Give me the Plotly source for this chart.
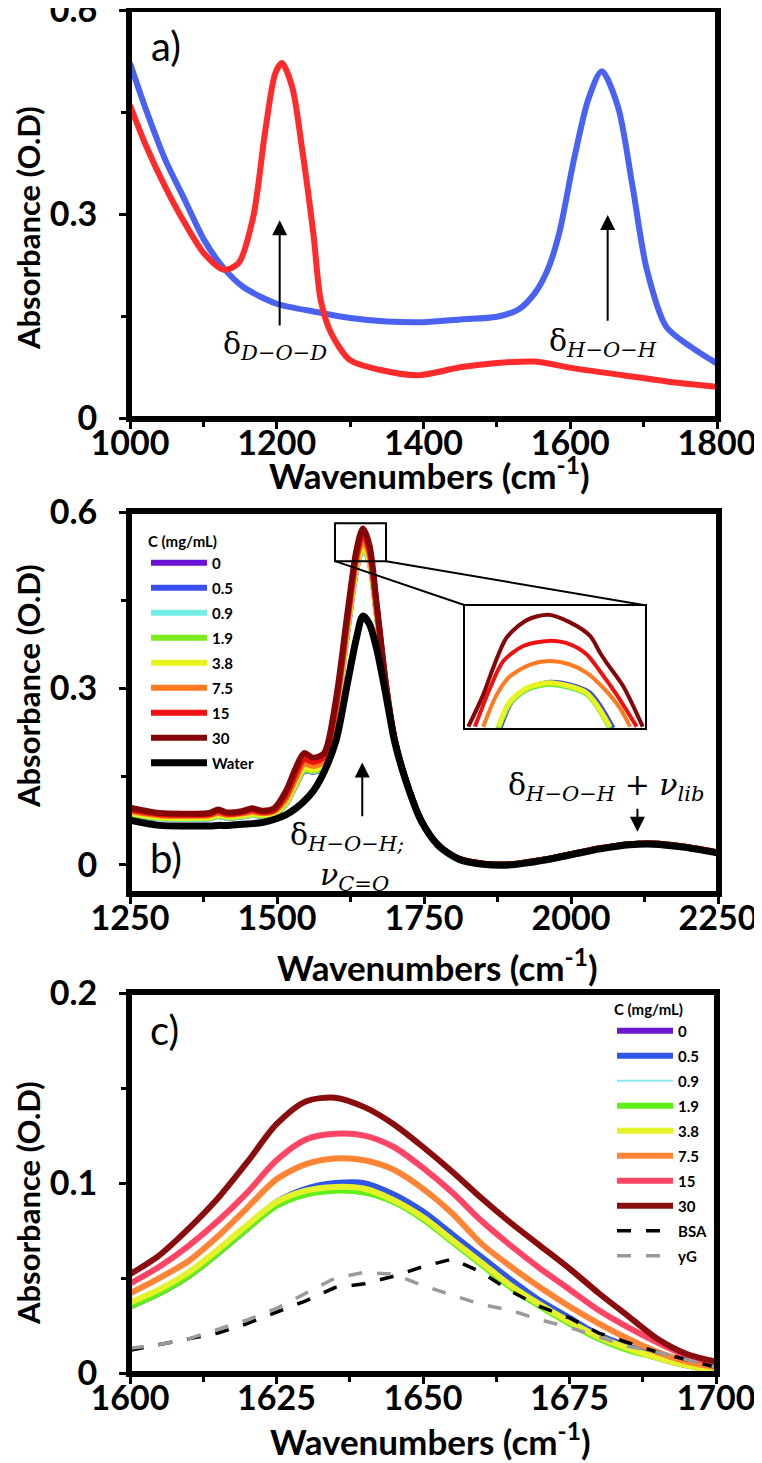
import plotly.graph_objects as go

W, H = 762, 1463
OFF = 8  # the page body adds an 8px margin; shift positions to compensate


def px(x):
    return (x - OFF) / W


def py(y):
    return 1 - (y - OFF) / H


# ---------------------------------------------------------------- panel a
a_x_h2o = [1000, 1022, 1048, 1075, 1101, 1128, 1154, 1200, 1254, 1300, 1350, 1400, 1450,
           1500, 1530, 1552, 1570, 1585, 1605, 1625, 1643, 1665, 1685, 1704, 1731, 1764, 1800]
a_y_h2o = [0.522, 0.453, 0.38, 0.32, 0.262, 0.22, 0.193, 0.168, 0.156, 0.147, 0.142, 0.141, 0.145,
           0.149, 0.16, 0.184, 0.22, 0.272, 0.38, 0.47, 0.51, 0.458, 0.34, 0.22, 0.134, 0.105, 0.08]
a_x_d2o = [1000, 1022, 1048, 1075, 1101, 1128, 1148, 1168, 1184, 1198, 1207, 1221, 1234,
           1250, 1260, 1274, 1300, 1340, 1393, 1452, 1500, 1552, 1605, 1672, 1737, 1800]
a_y_d2o = [0.46, 0.40, 0.34, 0.286, 0.242, 0.218, 0.228, 0.296, 0.42, 0.507, 0.522, 0.487, 0.40,
           0.27, 0.173, 0.125, 0.085, 0.071, 0.063, 0.075, 0.081, 0.083, 0.073, 0.063, 0.053, 0.046]

# ---------------------------------------------------------------- panel b
conc_labels = ['0', '0.5', '0.9', '1.9', '3.8', '7.5', '15', '30']
b_colors = ['#6A12D4', '#3A4FEF', '#74EDE6', '#7CEB1E', '#E9F41E', '#FF7A1E', '#EE1111', '#840606']

b_x = [1250, 1300, 1350, 1385, 1400, 1415, 1440, 1458, 1475, 1495, 1515, 1532, 1546, 1562, 1580,
       1600, 1620, 1635, 1646, 1657, 1670, 1685, 1700, 1720, 1745, 1775, 1810, 1850, 1900, 1950,
       2000, 2050, 2100, 2140, 2190, 2250]
b_tail = [0.033, 0.010, 0.002, 0.001, 0.008, 0.018, 0.028, 0.035, 0.036, 0.031, 0.021]
b_water = [0.076, 0.067, 0.066, 0.066, 0.067, 0.067, 0.069, 0.070, 0.072, 0.077, 0.085, 0.096,
           0.108, 0.126, 0.158, 0.210, 0.310, 0.385, 0.423, 0.410, 0.365, 0.290, 0.210, 0.140,
           0.075, 0.032, 0.009, 0.001, 0.000, 0.007, 0.017, 0.027, 0.034, 0.035, 0.030, 0.020]
b_c0 = [0.086, 0.079, 0.078, 0.079, 0.083, 0.080, 0.082, 0.085, 0.083, 0.086, 0.104, 0.136,
        0.160, 0.158, 0.168, 0.250, 0.400, 0.503, 0.540, 0.517, 0.423, 0.304, 0.212, 0.141,
        0.076] + b_tail
b_c05 = [0.087, 0.080, 0.079, 0.080, 0.084, 0.081, 0.083, 0.086, 0.084, 0.087, 0.105, 0.137,
         0.161, 0.159, 0.169, 0.251, 0.401, 0.505, 0.541, 0.519, 0.425, 0.305, 0.212, 0.141,
         0.076] + b_tail
b_c09 = [0.086, 0.079, 0.078, 0.079, 0.083, 0.080, 0.082, 0.085, 0.083, 0.086, 0.104, 0.137,
         0.161, 0.159, 0.169, 0.251, 0.401, 0.504, 0.540, 0.518, 0.424, 0.304, 0.212, 0.141,
         0.076] + b_tail
b_c19 = [0.087, 0.080, 0.079, 0.080, 0.084, 0.081, 0.083, 0.086, 0.084, 0.087, 0.105, 0.138,
         0.162, 0.160, 0.170, 0.252, 0.402, 0.505, 0.540, 0.518, 0.424, 0.305, 0.212, 0.141,
         0.076] + b_tail
b_c38 = [0.088, 0.081, 0.080, 0.081, 0.085, 0.082, 0.084, 0.087, 0.085, 0.088, 0.107, 0.140,
         0.165, 0.162, 0.172, 0.255, 0.405, 0.508, 0.543, 0.520, 0.425, 0.305, 0.212, 0.141,
         0.076] + b_tail
b_c75 = [0.091, 0.084, 0.083, 0.084, 0.088, 0.085, 0.087, 0.090, 0.088, 0.091, 0.112, 0.147,
         0.172, 0.168, 0.177, 0.262, 0.412, 0.517, 0.553, 0.528, 0.430, 0.306, 0.213, 0.141,
         0.076] + b_tail
b_c15 = [0.094, 0.086, 0.085, 0.086, 0.091, 0.087, 0.089, 0.093, 0.090, 0.093, 0.118, 0.155,
         0.180, 0.175, 0.183, 0.270, 0.420, 0.525, 0.562, 0.536, 0.435, 0.308, 0.214, 0.142,
         0.076] + b_tail
b_c30 = [0.097, 0.088, 0.087, 0.088, 0.094, 0.089, 0.091, 0.096, 0.092, 0.096, 0.125, 0.165,
         0.190, 0.182, 0.190, 0.280, 0.430, 0.535, 0.572, 0.545, 0.440, 0.310, 0.215, 0.142,
         0.076] + b_tail
b_series = [b_c0, b_c05, b_c09, b_c19, b_c38, b_c75, b_c15, b_c30]

# inset of panel b (zoom on the peak top)
ins_x_low = [1614.7, 1620.3, 1628.4, 1638.8, 1649.2, 1657.3, 1662.1, 1668.5]
ins_y_0 = [0.5170, 0.5303, 0.5374, 0.5401, 0.5384, 0.5350, 0.5290, 0.5170]
ins_x_05 = [1615.5, 1621.0, 1629.0, 1639.5, 1650.0, 1658.5, 1663.5, 1670.0]
ins_y_05 = [0.5170, 0.5306, 0.5378, 0.5410, 0.5394, 0.5356, 0.5290, 0.5170]
ins_y_09 = [0.5170, 0.5300, 0.5371, 0.5398, 0.5381, 0.5347, 0.5286, 0.5170]
ins_y_19 = [0.5170, 0.5302, 0.5373, 0.5400, 0.5383, 0.5348, 0.5287, 0.5170]
ins_y_38 = [0.5177, 0.5309, 0.5380, 0.5407, 0.5389, 0.5354, 0.5292, 0.5177]
ins_x_75 = [1607.4, 1613.9, 1620.3, 1630.0, 1638.8, 1649.2, 1657.3, 1665.3, 1673.3, 1678.2]
ins_y_75 = [0.5177, 0.5345, 0.5441, 0.5503, 0.5521, 0.5503, 0.5459, 0.5380, 0.5274, 0.5177]
ins_x_15 = [1603.4, 1610.7, 1617.1, 1626.7, 1638.8, 1649.2, 1657.3, 1663.7, 1671.7, 1681.4]
ins_y_15 = [0.5177, 0.5380, 0.5521, 0.5600, 0.5627, 0.5609, 0.5556, 0.5468, 0.5345, 0.5177]
ins_x_30 = [1600.2, 1607.4, 1612.2, 1618.7, 1628.4, 1638.8, 1649.2, 1658.9, 1663.7, 1666.9,
            1674.9, 1684.3]
ins_y_30 = [0.5177, 0.5345, 0.5486, 0.5645, 0.5736, 0.5764, 0.5724, 0.5653, 0.5565, 0.5512,
            0.5389, 0.5177]
ins_x = [ins_x_low, ins_x_05, ins_x_low, ins_x_low, ins_x_low, ins_x_75, ins_x_15, ins_x_30]
ins_y = [ins_y_0, ins_y_05, ins_y_09, ins_y_19, ins_y_38, ins_y_75, ins_y_15, ins_y_30]

# ---------------------------------------------------------------- panel c
c_colors = ['#6A18D0', '#2F56E8', '#8DE6F2', '#5FF01A', '#E5F22A', '#FF8434', '#FF4466', '#8A0C0C']
c_x = [1600, 1605, 1610, 1615, 1620, 1625, 1630, 1635, 1640, 1645, 1650, 1655, 1660, 1665,
       1670, 1675, 1680, 1685, 1690, 1695, 1700]
c_c0 = [0.035, 0.042, 0.051, 0.063, 0.076, 0.089, 0.096, 0.099, 0.099, 0.093, 0.084, 0.072,
        0.060, 0.048, 0.037, 0.028, 0.020, 0.013, 0.008, 0.004, 0.001]
c_c05 = [0.036, 0.043, 0.052, 0.064, 0.077, 0.090, 0.097, 0.100, 0.100, 0.094, 0.085, 0.073,
         0.061, 0.049, 0.038, 0.029, 0.020, 0.014, 0.009, 0.005, 0.002]
c_c09 = [0.035, 0.042, 0.051, 0.063, 0.076, 0.088, 0.094, 0.096, 0.095, 0.089, 0.080, 0.068,
         0.056, 0.045, 0.035, 0.026, 0.018, 0.012, 0.007, 0.004, 0.001]
c_c19 = [0.035, 0.042, 0.051, 0.063, 0.076, 0.088, 0.094, 0.096, 0.095, 0.090, 0.081, 0.069,
         0.057, 0.045, 0.035, 0.026, 0.018, 0.012, 0.008, 0.004, 0.001]
c_c38 = [0.037, 0.044, 0.053, 0.065, 0.078, 0.090, 0.096, 0.098, 0.097, 0.091, 0.082, 0.070,
         0.058, 0.046, 0.036, 0.027, 0.019, 0.013, 0.008, 0.004, 0.001]
c_c75 = [0.042, 0.050, 0.059, 0.072, 0.087, 0.102, 0.110, 0.113, 0.112, 0.107, 0.097, 0.084,
         0.068, 0.056, 0.045, 0.035, 0.026, 0.018, 0.011, 0.006, 0.003]
c_c15 = [0.047, 0.056, 0.067, 0.080, 0.095, 0.112, 0.123, 0.126, 0.125, 0.119, 0.108, 0.095,
         0.080, 0.067, 0.055, 0.044, 0.033, 0.024, 0.016, 0.009, 0.005]
c_c30 = [0.052, 0.062, 0.076, 0.092, 0.111, 0.131, 0.143, 0.145, 0.140, 0.131, 0.119, 0.106,
         0.092, 0.079, 0.067, 0.055, 0.042, 0.030, 0.018, 0.010, 0.006]
c_series = [c_c0, c_c05, c_c09, c_c19, c_c38, c_c75, c_c15, c_c30]
c_bsa = [0.012, 0.015, 0.018, 0.021, 0.026, 0.032, 0.038, 0.045, 0.047, 0.051, 0.056, 0.060,
         0.053, 0.043, 0.035, 0.029, 0.021, 0.016, 0.011, 0.007, 0.003]
c_yg = [0.013, 0.015, 0.018, 0.023, 0.028, 0.034, 0.042, 0.050, 0.053, 0.052, 0.046, 0.041,
        0.036, 0.033, 0.028, 0.024, 0.019, 0.014, 0.011, 0.007, 0.003]

TICK_FONT = dict(family='Lato', size=34, color='black', weight='bold')

fig = go.Figure()

# panel a
fig.add_trace(go.Scatter(x=a_x_h2o, y=a_y_h2o, mode='lines', showlegend=False,
                         line=dict(color='#4A62F2', width=6, shape='spline', smoothing=0.8),
                         xaxis='x', yaxis='y'))
fig.add_trace(go.Scatter(x=a_x_d2o, y=a_y_d2o, mode='lines', showlegend=False,
                         line=dict(color='#FF2A2A', width=6, shape='spline', smoothing=0.8),
                         xaxis='x', yaxis='y'))

# panel b
for i, lab in enumerate(conc_labels):
    fig.add_trace(go.Scatter(x=b_x, y=b_series[i], mode='lines', name=lab,
                             line=dict(color=b_colors[i], width=6, shape='spline', smoothing=0.8),
                             legend='legend', legendgroup=f'b{i}', xaxis='x2', yaxis='y2'))
fig.add_trace(go.Scatter(x=b_x, y=b_water, mode='lines', name='Water',
                         line=dict(color='black', width=7, shape='spline', smoothing=0.8),
                         legend='legend', legendgroup='bw', xaxis='x2', yaxis='y2'))

# inset
for i in range(len(conc_labels)):
    fig.add_trace(go.Scatter(x=ins_x[i], y=ins_y[i], mode='lines', showlegend=False,
                             line=dict(color=b_colors[i], width=4 if i > 4 else 5,
                                       shape='spline', smoothing=0.8),
                             xaxis='x4', yaxis='y4'))

# panel c
for i, lab in enumerate(conc_labels):
    fig.add_trace(go.Scatter(x=c_x, y=c_series[i], mode='lines', name=lab,
                             line=dict(color=c_colors[i], width=2 if lab == '0.9' else 6,
                                       shape='spline', smoothing=0.8),
                             legend='legend2', legendgroup=f'c{i}', xaxis='x3', yaxis='y3'))
fig.add_trace(go.Scatter(x=c_x, y=c_bsa, mode='lines', name='BSA',
                         line=dict(color='black', width=3.5, dash='14px,15px'),
                         legend='legend2', legendgroup='cb', xaxis='x3', yaxis='y3'))
fig.add_trace(go.Scatter(x=c_x, y=c_yg, mode='lines', name='yG',
                         line=dict(color='#9A9A9A', width=3.5, dash='14px,15px'),
                         legend='legend2', legendgroup='cy', xaxis='x3', yaxis='y3'))


def xax(dom, rng, dtick, mdtick, anchor):
    return dict(domain=dom, range=rng, dtick=dtick, anchor=anchor, ticks='outside', ticklen=7,
                tickwidth=3, tickcolor='black',
                minor=dict(dtick=mdtick, ticks='outside', ticklen=5, tickwidth=3,
                           tickcolor='black'),
                showline=True, linewidth=4, linecolor='black', mirror=True, showgrid=False,
                zeroline=False, tickfont=TICK_FONT, fixedrange=True, automargin=False,
                ticklabeloverflow='allow', ticklabelstandoff=-15)


def yax(dom, rng, dtick, mdtick, anchor):
    d = xax(dom, rng, dtick, mdtick, anchor)
    d['ticklabelstandoff'] = 15
    return d


xa = xax([px(130), px(717)], [1000, 1800], 200, 100, 'y')
xb = xax([px(130), px(718)], [1250, 2250], 250, 125, 'y2')
xc = xax([px(130), px(716)], [1600, 1700], 25, 12.5, 'y3')

ya = yax([py(418), py(10)], [0, 0.6001], 0.3, 0.15, 'x')
yb = yax([py(893), py(512)], [-0.048, 0.6001], 0.3, 0.15, 'x2')
yc = yax([py(1373), py(993)], [0, 0.2001], 0.1, 0.05, 'x3')

ins_xax = dict(domain=[px(465), px(645)], range=[1598.6, 1685.4], anchor='y4', showline=True,
               linewidth=2, linecolor='black', mirror=True, showticklabels=False, ticks='',
               showgrid=False, zeroline=False, automargin=False)
ins_yax = dict(domain=[py(728), py(606)], range=[0.517, 0.581], anchor='x4', showline=True,
               linewidth=2, linecolor='black', mirror=True, showticklabels=False, ticks='',
               showgrid=False, zeroline=False, automargin=False)

LEG_FONT = dict(family='Lato', size=15, color='black', weight='bold')
legend_b = dict(x=px(146), y=py(527), xanchor='left', yanchor='top', bgcolor='rgba(0,0,0,0)',
                font=LEG_FONT, tracegroupgap=2.5, itemwidth=56,
                title=dict(text='C (mg/mL)', font=LEG_FONT))
legend_c = dict(x=px(612), y=py(995), xanchor='left', yanchor='top', bgcolor='rgba(0,0,0,0)',
                font=LEG_FONT, tracegroupgap=2.5, itemwidth=56,
                title=dict(text='C (mg/mL)', font=LEG_FONT))

ann = []
CEN = dict(xref='paper', yref='paper', xanchor='center', yanchor='middle', showarrow=False)
YT = dict(family='Lato', size=31, color='black')
XT = dict(family='Lato', size=35, color='black')
for yc_ in (228, 686, 1203):
    ann.append(dict(x=px(28), y=py(yc_), text='<b>Absorbance (O.D)</b>', textangle=-90,
                    font=YT, **CEN))
for xc_, yc_ in ((429, 473), (437, 965), (430, 1439)):
    ann.append(dict(x=px(xc_), y=py(yc_), text='<b>Wavenumbers (cm<sup>-1</sup>)</b>',
                    font=XT, **CEN))
PL = dict(family='Lato', size=40, color='black')
for t, x_, y_ in (('a)', 166, 46), ('b)', 166, 858), ('c)', 164, 1030)):
    ann.append(dict(x=px(x_), y=py(y_), text=t, font=PL, **CEN))

ARR = dict(showarrow=True, arrowhead=2, arrowsize=1.5, arrowwidth=2, arrowcolor='black', text='')
ann.append(dict(x=1204, y=0.291, ax=1204, ay=0.134, xref='x', yref='y', axref='x', ayref='y', **ARR))
ann.append(dict(x=1651, y=0.2985, ax=1651, ay=0.141, xref='x', yref='y', axref='x', ayref='y', **ARR))
ann.append(dict(x=1645, y=0.174, ax=1645, ay=0.08, xref='x2', yref='y2', axref='x2', ayref='y2', **ARR))
ann.append(dict(x=2113, y=0.056, ax=2113, ay=0.098, xref='x2', yref='y2', axref='x2', ayref='y2', **ARR))

GF = dict(family='DejaVu Serif', size=30, color='black')
ann.append(dict(x=px(275), y=py(345), font=GF, text='δ<sub><i>D−O−D</i></sub>', **CEN))
ann.append(dict(x=px(603), y=py(343), font=GF, text='δ<sub><i>H−O−H</i></sub>', **CEN))
ann.append(dict(x=px(347), y=py(836), font=GF, text='δ<sub><i>H−O−H;</i></sub>', **CEN))
ann.append(dict(x=px(354), y=py(876), font=GF, text='<i>ν</i><sub><i>C=O</i></sub>', **CEN))
ann.append(dict(x=px(606), y=py(787), font=GF,
                text='δ<sub><i>H−O−H</i></sub> + <i>ν</i><sub><i>lib</i></sub>', **CEN))

BOX = dict(color='black', width=4)
shapes = [
    dict(type='rect', xref='x2', yref='y2', x0=1598.6, x1=1685.4, y0=0.5165, y1=0.581,
         line=dict(color='black', width=2)),
    dict(type='line', xref='x2', yref='y2', x0=1598.6, y0=0.5165, x1=1819.7, y1=0.4415,
         line=dict(color='black', width=2)),
    dict(type='line', xref='x2', yref='y2', x0=1685.4, y0=0.5165, x1=2125.9, y1=0.4415,
         line=dict(color='black', width=2)),
]
for xr, yr in (('x', 'y'), ('x2', 'y2'), ('x3', 'y3')):
    shapes.append(dict(type='rect', xref=f'{xr} domain', yref=f'{yr} domain', x0=0, x1=1,
                       y0=0, y1=1, line=BOX, layer='above'))

fig.update_layout(
    width=W, height=H, margin=dict(l=0, r=0, t=0, b=0, autoexpand=False),
    paper_bgcolor='white', plot_bgcolor='white',
    xaxis=xa, yaxis=ya, xaxis2=xb, yaxis2=yb, xaxis3=xc, yaxis3=yc,
    xaxis4=ins_xax, yaxis4=ins_yax,
    legend=legend_b, legend2=legend_c,
    annotations=ann, shapes=shapes,
)

fig.write_html("out.html")
